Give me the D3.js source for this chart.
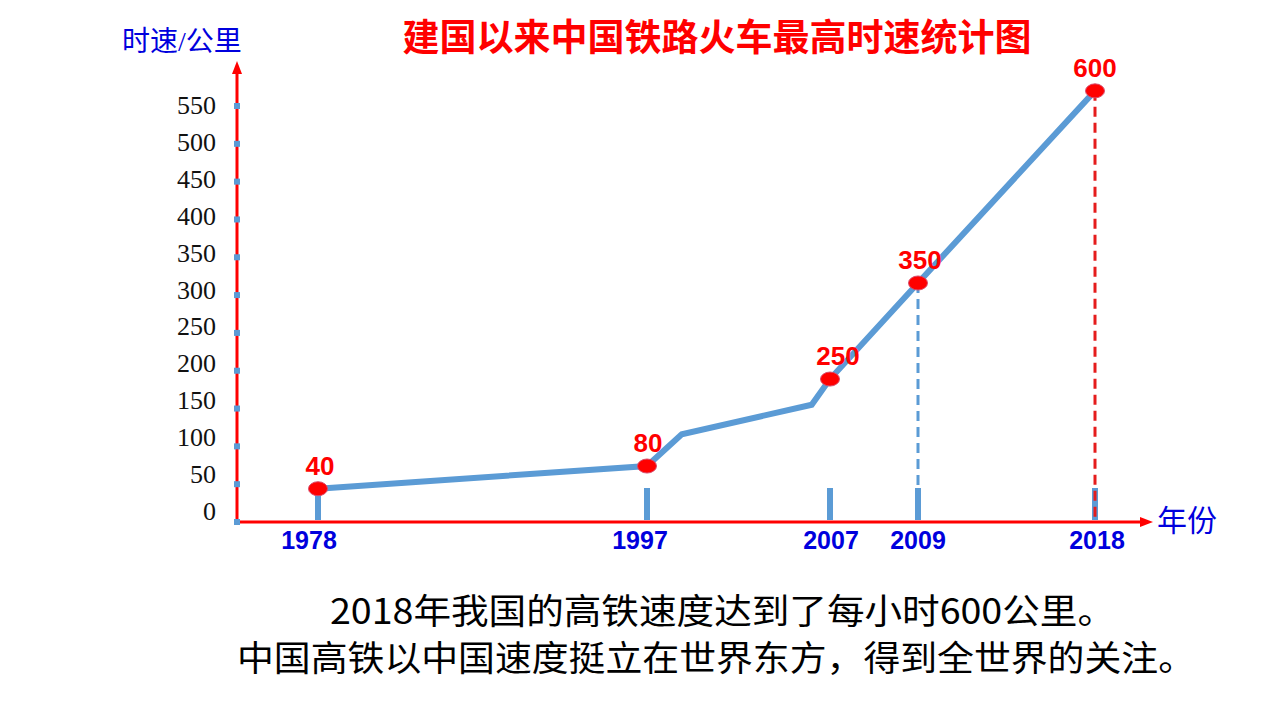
<!DOCTYPE html>
<html>
<head>
<meta charset="utf-8">
<script src="https://cdn.jsdelivr.net/npm/d3@7"></script>
<style>
  body { margin: 0; background: #fff; }
  svg { display: block; }
</style>
</head>
<body>
<div id="chart"></div>
<script>
// chart data
const YEARS = [1978, 1997, 2007, 2009, 2018];
const SPEED_LABELS = [40, 80, 250, 350, 600];
// where the markers sit on the drawn y axis (slide is not to scale)
const SPEED_PLOTTED = [44, 74, 189, 316, 570];
// extra bends in the drawn line between 1997 and 2007
const BEND_YEARS = [1998.9, 2006];
const BEND_SPEEDS = [116, 155];
const Y_TICKS = [0, 50, 100, 150, 200, 250, 300, 350, 400, 450, 500, 550];

const WIDTH = 1280;
const HEIGHT = 720;
const BLUE = "#5b9bd5";
const RED = "#ff0000";
const TEXT_BLUE = "#0000dd";
const AXIS_X0 = 237;
const AXIS_Y0 = 522;

const svg = d3.select("#chart")
  .append("svg")
  .attr("width", WIDTH)
  .attr("height", HEIGHT);

// scales: the x axis on the slide is piecewise, so map each year to its spot
const xScale = d3.scaleLinear()
  .domain(YEARS)
  .range([318, 647, 830, 918, 1095]);
const yScale = d3.scaleLinear().domain([0, 550]).range([AXIS_Y0, 106]);
// tick labels drift a little from the tick squares
const yLabelScale = d3.scaleLinear().domain([0, 550]).range([511, 105]);

// title
svg.append("text")
  .attr("x", 717)
  .attr("y", 51)
  .attr("text-anchor", "middle")
  .attr("font-family", "'Noto Sans CJK SC', sans-serif")
  .attr("font-weight", "bold")
  .attr("font-size", 37)
  .attr("fill", RED)
  .text("建国以来中国铁路火车最高时速统计图");

// y axis title
svg.append("text")
  .attr("x", 122)
  .attr("y", 51)
  .attr("font-family", "'Liberation Serif', 'Noto Sans CJK SC', serif")
  .attr("font-size", 28)
  .attr("fill", TEXT_BLUE)
  .text("时速/公里");

// x axis title
svg.append("text")
  .attr("x", 1157)
  .attr("y", 531)
  .attr("font-family", "'Noto Sans CJK SC', serif")
  .attr("font-size", 30)
  .attr("fill", TEXT_BLUE)
  .text("年份");

// axes
const axes = svg.append("g").attr("class", "axes");
axes.append("line")
  .attr("x1", AXIS_X0).attr("x2", AXIS_X0)
  .attr("y1", AXIS_Y0).attr("y2", 70)
  .attr("stroke", RED).attr("stroke-width", 3);
axes.append("path")
  .attr("d", `M${AXIS_X0},61 L${AXIS_X0 - 5},74 L${AXIS_X0 + 5},74 Z`)
  .attr("fill", RED);
axes.append("line")
  .attr("x1", AXIS_X0).attr("x2", 1143)
  .attr("y1", AXIS_Y0).attr("y2", AXIS_Y0)
  .attr("stroke", RED).attr("stroke-width", 3);
axes.append("path")
  .attr("d", `M1153,${AXIS_Y0} L1140,${AXIS_Y0 - 5} L1140,${AXIS_Y0 + 5} Z`)
  .attr("fill", RED);

// y ticks: little blue squares plus serif labels
axes.selectAll(".ytick")
  .data(Y_TICKS)
  .join("rect")
  .attr("class", "ytick")
  .attr("x", AXIS_X0 - 3)
  .attr("y", d => yScale(d) - 3)
  .attr("width", 6)
  .attr("height", 6)
  .attr("fill", BLUE);

axes.selectAll(".ylabel")
  .data(Y_TICKS)
  .join("text")
  .attr("class", "ylabel")
  .attr("x", 216)
  .attr("y", d => yLabelScale(d) + 9)
  .attr("text-anchor", "end")
  .attr("font-family", "'Liberation Serif', serif")
  .attr("font-size", 26)
  .attr("fill", "#111")
  .text(d => d);

// year ticks on x axis
const points = YEARS.map((y, i) => ({
  year: y,
  plotted: SPEED_PLOTTED[i],
  label: SPEED_LABELS[i],
}));

svg.append("g")
  .selectAll("rect")
  .data(points)
  .join("rect")
  .attr("x", d => xScale(d.year) - 3)
  .attr("y", (d, i) => i === 0 ? yScale(d.plotted) : 488)
  .attr("width", 6)
  .attr("height", (d, i) => AXIS_Y0 - 2 - (i === 0 ? yScale(d.plotted) : 488))
  .attr("fill", BLUE);

// dashed drop lines at 2009 and 2018
svg.append("line")
  .attr("x1", xScale(2009)).attr("x2", xScale(2009))
  .attr("y1", yScale(SPEED_PLOTTED[3])).attr("y2", 488)
  .attr("stroke", BLUE).attr("stroke-width", 3)
  .attr("stroke-dasharray", "10,6");
svg.append("line")
  .attr("x1", xScale(2018)).attr("x2", xScale(2018))
  .attr("y1", yScale(SPEED_PLOTTED[4])).attr("y2", AXIS_Y0)
  .attr("stroke", "#e51c1c").attr("stroke-width", 3)
  .attr("stroke-dasharray", "10,6");

// year labels
svg.append("g")
  .selectAll("text")
  .data(YEARS)
  .join("text")
  .attr("x", (d, i) => xScale(d) + [-9, -7, 1, 0, 2][i])
  .attr("y", 549)
  .attr("text-anchor", "middle")
  .attr("font-family", "'Liberation Sans', Arial, sans-serif")
  .attr("font-weight", "bold")
  .attr("font-size", 25)
  .attr("fill", TEXT_BLUE)
  .text(d => d);

// the drawn line with its bends
const lineData = points.map(d => [d.year, d.plotted]);
lineData.splice(2, 0, ...BEND_YEARS.map((y, i) => [y, BEND_SPEEDS[i]]));
const line = d3.line()
  .x(d => xScale(d[0]))
  .y(d => yScale(d[1]));

svg.append("path")
  .datum(lineData)
  .attr("d", line)
  .attr("fill", "none")
  .attr("stroke", BLUE)
  .attr("stroke-width", 6)
  .attr("stroke-linejoin", "miter");

// markers and value labels
svg.append("g")
  .selectAll("ellipse")
  .data(points)
  .join("ellipse")
  .attr("cx", d => xScale(d.year))
  .attr("cy", d => yScale(d.plotted))
  .attr("rx", 9.5)
  .attr("ry", 7)
  .attr("fill", RED)
  .attr("stroke", "#d94a6a")
  .attr("stroke-width", 1);

svg.append("g")
  .selectAll("text")
  .data(points)
  .join("text")
  .attr("x", (d, i) => xScale(d.year) + [2, 1, 8, 2, 0][i])
  .attr("y", d => yScale(d.plotted) - 14)
  .attr("text-anchor", "middle")
  .attr("font-family", "'Liberation Sans', Arial, sans-serif")
  .attr("font-weight", "bold")
  .attr("font-size", 26)
  .attr("fill", RED)
  .text(d => d.label);

// caption below the chart
const caption = svg.append("g")
  .attr("font-family", "'Noto Sans CJK SC', serif")
  .attr("font-size", 35)
  .attr("fill", "#000");
caption.append("text")
  .attr("x", 330)
  .attr("y", 624)
  .attr("textLength", 785)
  .attr("lengthAdjust", "spacingAndGlyphs")
  .text("2018年我国的高铁速度达到了每小时600公里。");
caption.append("text")
  .attr("x", 237)
  .attr("y", 671)
  .attr("textLength", 958)
  .attr("lengthAdjust", "spacingAndGlyphs")
  .text("中国高铁以中国速度挺立在世界东方，得到全世界的关注。");
</script>
</body>
</html>
